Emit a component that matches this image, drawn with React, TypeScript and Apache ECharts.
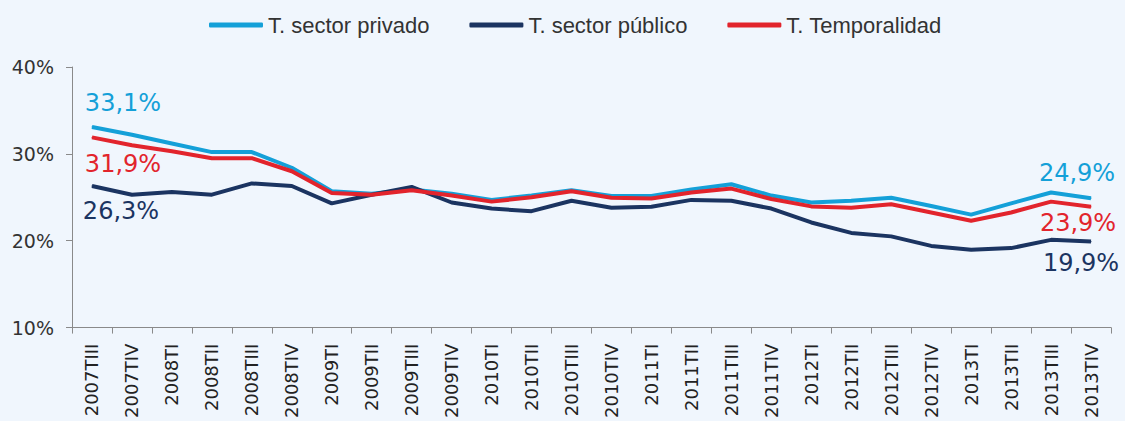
import React, { useEffect, useRef } from "react";
import * as echarts from "echarts";

const categories = [
  "2007TIII", "2007TIV", "2008TI", "2008TII", "2008TIII", "2008TIV",
  "2009TI", "2009TII", "2009TIII", "2009TIV", "2010TI", "2010TII",
  "2010TIII", "2010TIV", "2011TI", "2011TII", "2011TIII", "2011TIV",
  "2012TI", "2012TII", "2012TIII", "2012TIV", "2013TI", "2013TII",
  "2013TIII", "2013TIV",
];

const privado = [
  33.1, 32.2, 31.2, 30.2, 30.2, 28.4, 25.7, 25.4, 25.9, 25.4, 24.7, 25.2, 25.8,
  25.15, 25.15, 25.9, 26.5, 25.2, 24.4, 24.6, 24.95, 24.0, 23.0, 24.3, 25.55, 24.9,
];
const publico = [
  26.3, 25.3, 25.6, 25.3, 26.6, 26.3, 24.3, 25.3, 26.2, 24.4, 23.7, 23.4, 24.6,
  23.8, 23.9, 24.7, 24.6, 23.7, 22.1, 20.9, 20.5, 19.4, 18.95, 19.15, 20.1, 19.9,
];
const temporalidad = [
  31.9, 31.0, 30.3, 29.5, 29.5, 28.0, 25.5, 25.3, 25.8, 25.2, 24.5, 25.0, 25.7,
  24.95, 24.85, 25.55, 26.0, 24.8, 23.95, 23.8, 24.2, 23.25, 22.3, 23.25, 24.5, 23.9,
];

const seriesNames = ["T. sector privado", "T. sector público", "T. Temporalidad"];
const colors = ["#14a0d8", "#1b3461", "#e2242c"];
// label offsets [first, last] for each series
const labelOffsets = [
  [[31, -24], [-14, -25]],
  [[29, 25], [-10, 21]],
  [[31, 27], [-13, 16]],
];

const fmt = (v: number) => v.toFixed(1).replace(".", ",") + "%";

export default function App() {
  const ref = useRef<HTMLDivElement>(null);
  useEffect(() => {
    if (!ref.current) return;
    const chart = echarts.init(ref.current, null, { renderer: "svg" });
    const all = [privado, publico, temporalidad];
    const series = all.map((arr, si) => ({
      name: seriesNames[si],
      type: "line",
      data: arr.map((v, i) => {
        const isFirst = i === 0;
        const isLast = i === arr.length - 1;
        if (!isFirst && !isLast) return v;
        const off = labelOffsets[si][isFirst ? 0 : 1];
        return {
          value: v,
          label: {
            show: true,
            position: "inside",
            offset: off,
            formatter: () => fmt(v),
            color: colors[si],
            fontFamily: "DejaVu Sans",
            fontSize: 24,
          },
        };
      }),
      symbol: "circle",
      symbolSize: 1,
      showAllSymbol: true,
      lineStyle: { width: 4, color: colors[si] },
      itemStyle: { color: colors[si] },
      label: { show: false },
      emphasis: { disabled: true },
      z: 2 + si,
    }));
    chart.setOption({
      animation: false,
      backgroundColor: "#f0f6fd",
      color: colors,
      legend: {
        left: 204,
        top: 9,
        itemGap: 40,
        itemWidth: 54,
        itemHeight: 5,
        icon: "roundRect",
        textStyle: { fontFamily: "Liberation Sans", fontSize: 22, color: "#333" },
        data: seriesNames,
      },
      grid: { left: 72, right: 14, top: 67, bottom: 92, containLabel: false },
      xAxis: {
        type: "category",
        data: categories,
        boundaryGap: true,
        axisLine: { lineStyle: { color: "#8a8a8a", width: 1 } },
        axisTick: { show: true, length: 6, interval: 0, lineStyle: { color: "#8a8a8a" } },
        axisLabel: {
          interval: 0,
          rotate: 90,
          margin: 16,
          fontFamily: "DejaVu Sans",
          fontSize: 18,
          color: "#222",
        },
      },
      yAxis: {
        type: "value",
        min: 10,
        max: 40,
        interval: 10,
        axisLine: { show: true, lineStyle: { color: "#8a8a8a", width: 1 } },
        axisTick: { show: true, length: 6, lineStyle: { color: "#8a8a8a" } },
        splitLine: { show: false },
        axisLabel: {
          formatter: "{value}%",
          margin: 18,
          fontFamily: "DejaVu Sans",
          fontSize: 19,
          color: "#333",
        },
      },
      series,
    });
    return () => chart.dispose();
  }, []);
  return (
    <div
      ref={ref}
      style={{ position: "fixed", left: 0, top: 0, width: 1125, height: 421 }}
    />
  );
}
